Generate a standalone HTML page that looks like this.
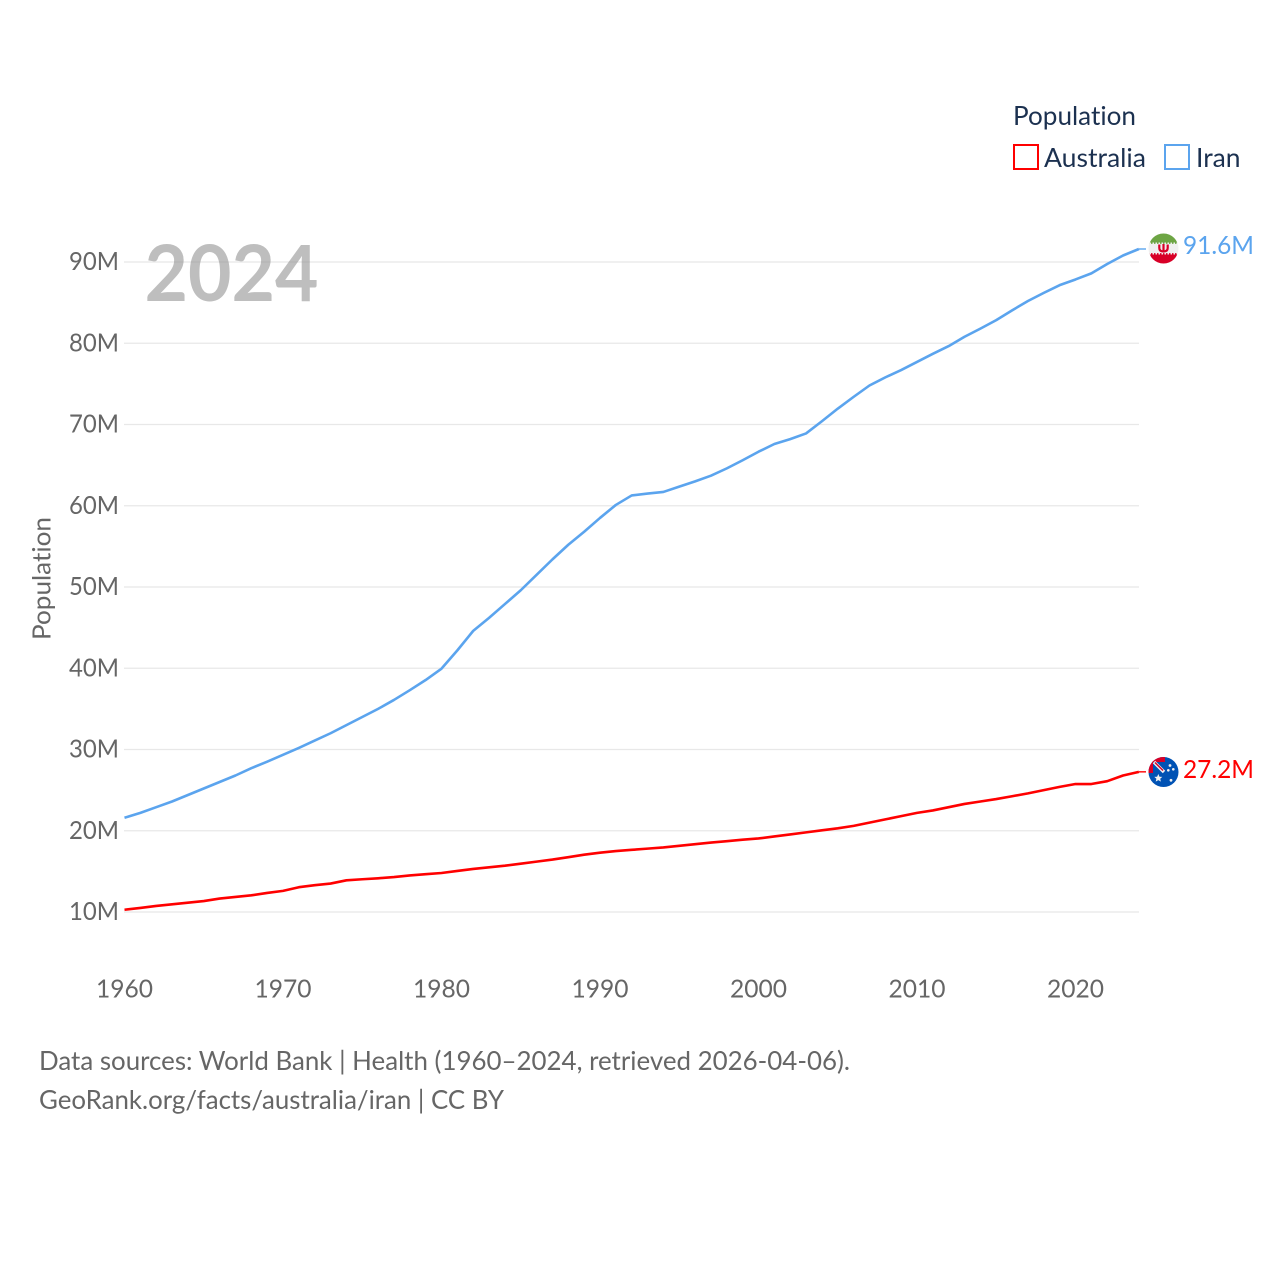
<!DOCTYPE html>
<html>
<head>
<meta charset="utf-8">
<title>Population: Australia and Iran</title>
<style>
html,body{margin:0;padding:0;background:#fff;}
svg{display:block;}
text{font-family:"Lato","Carlito","Liberation Sans",sans-serif;font-variant-ligatures:none;}
</style>
</head>
<body>
<svg id="chart" width="1280" height="1280" viewBox="0 0 1280 1280" xmlns="http://www.w3.org/2000/svg">
  <defs>
    <clipPath id="iran-clip"><circle cx="1163.5" cy="248.5" r="15"/></clipPath>
    <clipPath id="aus-clip"><circle cx="1163.5" cy="772" r="15"/></clipPath>
  </defs>
  <rect x="0" y="0" width="1280" height="1280" fill="#ffffff"/>
  <g id="grid"></g>
  <g id="yticks"></g>
  <g id="xticks"></g>
  <text transform="translate(50.5,640) rotate(-90)" font-size="25" fill="#666666" textLength="123" lengthAdjust="spacingAndGlyphs">Population</text>
  <text x="144.5" y="301" font-size="78" font-weight="700" fill="#888888" fill-opacity="0.55" textLength="174" lengthAdjust="spacingAndGlyphs">2024</text>
  <g id="series"></g>

  <g clip-path="url(#iran-clip)">
    <rect x="1148" y="233" width="31" height="31" fill="#f0f0f0"/>
    <rect x="1148" y="233" width="31" height="9.5" fill="#6da544"/>
    <rect x="1148" y="254.5" width="31" height="10" fill="#d80027"/>
    <path d="M1148 243.2h31" stroke="#6da544" stroke-width="1.4" stroke-dasharray="1.5 1.5"/>
    <path d="M1148 253.8h31" stroke="#d80027" stroke-width="1.4" stroke-dasharray="1.5 1.5"/>
    <path d="M1159.3 244.5v3.5q0 3.5 4.2 3.5t4.2-3.5v-3.5M1163.5 244v8.5" fill="none" stroke="#d80027" stroke-width="2.2"/>
  </g>
  <g clip-path="url(#aus-clip)">
    <rect x="1148" y="756" width="31" height="32" fill="#0052b4"/>
    <rect x="1148" y="756" width="17" height="6" fill="#d80027"/>
    <rect x="1148" y="756" width="5" height="17" fill="#d80027"/>
    <path d="M1154 762l10 10" stroke="#f0f0f0" stroke-width="3.4"/>
    <path d="M1155 762.5l8 8" stroke="#d80027" stroke-width="1.4"/>
    <polygon points="1158.3,774 1159.5,776.7 1162.3,776.9 1160.2,778.8 1160.9,781.6 1158.3,780.1 1155.7,781.6 1156.4,778.8 1154.3,776.9 1157.1,776.7" fill="#f0f0f0"/>
    <circle cx="1170" cy="765.5" r="1.4" fill="#f0f0f0"/>
    <circle cx="1173.3" cy="769.3" r="1.3" fill="#f0f0f0"/>
    <circle cx="1168.3" cy="770.3" r="1.3" fill="#f0f0f0"/>
    <circle cx="1171" cy="780.3" r="1.4" fill="#f0f0f0"/>
  </g>
  <text x="1183" y="254" font-size="25" fill="#5ba4ee" textLength="71" lengthAdjust="spacingAndGlyphs">91.6M</text>
  <text x="1183" y="778" font-size="25" fill="#ff0000" textLength="71" lengthAdjust="spacingAndGlyphs">27.2M</text>

  <g>
    <text x="1013" y="125" font-size="26" fill="#1c3150" textLength="123" lengthAdjust="spacingAndGlyphs">Population</text>
    <rect x="1014" y="145" width="24" height="24" fill="none" stroke="#ff0000" stroke-width="2"/>
    <text x="1044" y="167" font-size="26" fill="#1c3150" textLength="102" lengthAdjust="spacingAndGlyphs">Australia</text>
    <rect x="1165" y="145" width="24" height="24" fill="none" stroke="#5ba4ee" stroke-width="2"/>
    <text x="1196" y="167" font-size="26" fill="#1c3150" textLength="44.5" lengthAdjust="spacingAndGlyphs">Iran</text>
  </g>

  <text x="39" y="1070" font-size="26" fill="#666666" textLength="811" lengthAdjust="spacingAndGlyphs">Data sources: World Bank | Health (1960–2024, retrieved 2026-04-06).</text>
  <text x="39" y="1109" font-size="26" fill="#666666" textLength="465" lengthAdjust="spacingAndGlyphs">GeoRank.org/facts/australia/iran | CC BY</text>
</svg>
<script>
var firstYear = 1960;
var yTickValues = [10, 20, 30, 40, 50, 60, 70, 80, 90];
var yTickLabels = ["10M", "20M", "30M", "40M", "50M", "60M", "70M", "80M", "90M"];
var xTickYears = [1960, 1970, 1980, 1990, 2000, 2010, 2020];
var xTickLabels = ["1960", "1970", "1980", "1990", "2000", "2010", "2020"];
var iranValues = [21.6, 22.2, 22.9, 23.6, 24.4, 25.2, 26.0, 26.8, 27.7, 28.5,
  29.35, 30.2, 31.1, 32.0, 33.0, 34.0, 35.0, 36.1, 37.3, 38.55,
  39.95, 42.2, 44.6, 46.2, 47.9, 49.6, 51.5, 53.4, 55.2, 56.8,
  58.5, 60.1, 61.27, 61.5, 61.7, 62.35, 63.0, 63.7, 64.6, 65.6,
  66.65, 67.6, 68.2, 68.9, 70.4, 71.95, 73.4, 74.8, 75.8, 76.7,
  77.7, 78.7, 79.65, 80.8, 81.8, 82.85, 84.05, 85.2, 86.2, 87.15,
  87.85, 88.6, 89.75, 90.8, 91.6];
var australiaValues = [10.28, 10.5, 10.75, 10.95, 11.15, 11.35, 11.65, 11.85, 12.05, 12.35,
  12.6, 13.05, 13.3, 13.5, 13.9, 14.03, 14.15, 14.3, 14.5, 14.65,
  14.8, 15.05, 15.3, 15.5, 15.7, 15.95, 16.2, 16.45, 16.75, 17.05,
  17.3, 17.5, 17.65, 17.8, 17.95, 18.15, 18.35, 18.55, 18.72, 18.9,
  19.05, 19.3, 19.55, 19.8, 20.05, 20.3, 20.6, 21.0, 21.4, 21.8,
  22.2, 22.5, 22.9, 23.3, 23.6, 23.9, 24.25, 24.6, 25.0, 25.4,
  25.75, 25.75, 26.1, 26.8, 27.25];

var NS = "http://www.w3.org/2000/svg";
function xScale(year) { return 124.5 + (year - 1960) * 15.85; }
function yScale(v) { return 912 - (v - 10) * 8.125; }
function make(tag, attrs, parent, content) {
  var el = document.createElementNS(NS, tag);
  for (var k in attrs) { el.setAttribute(k, attrs[k]); }
  if (content !== undefined) { el.textContent = content; }
  parent.appendChild(el);
  return el;
}
var gridG = document.getElementById("grid");
var yG = document.getElementById("yticks");
var xG = document.getElementById("xticks");
var seriesG = document.getElementById("series");

yTickValues.forEach(function (v, i) {
  var line = make("line", {x1: 124, x2: 1139, y1: yScale(v), y2: yScale(v), stroke: "#e8e8e8", "stroke-width": 1.3}, gridG);
  
  
  var label = make("text", {x: 69, y: yScale(v) + 8, "font-size": 25, fill: "#666666", textLength: 50, lengthAdjust: "spacingAndGlyphs"}, yG, yTickLabels[i]);
  
  
});
xTickYears.forEach(function (yr, i) {
  var label = make("text", {x: xScale(yr) - 28.5, y: 997.5, "font-size": 25, fill: "#666666", textLength: 57, lengthAdjust: "spacingAndGlyphs"}, xG, xTickLabels[i]);
  
  
});
function linePath(values) {
  return values.map(function (v, i) {
    return (i ? "L" : "M") + xScale(firstYear + i).toFixed(2) + " " + yScale(v).toFixed(2);
  }).join("");
}
function connectorPath(values) {
  var n = values.length - 1;
  return "M" + xScale(firstYear + n).toFixed(2) + " " + yScale(values[n]).toFixed(2) + "H1146";
}
var iranLine = make("path", {d: linePath(iranValues), fill: "none", stroke: "#5ba4ee", "stroke-width": 2.6, "stroke-linejoin": "round"}, seriesG);


var iranConnector = make("path", {d: connectorPath(iranValues), fill: "none", stroke: "#5ba4ee", "stroke-width": 1.4}, seriesG);


var ausLine = make("path", {d: linePath(australiaValues), fill: "none", stroke: "#ff0000", "stroke-width": 2.6, "stroke-linejoin": "round"}, seriesG);


var ausConnector = make("path", {d: connectorPath(australiaValues), fill: "none", stroke: "#ff0000", "stroke-width": 1.4}, seriesG);


</script>
</body>
</html>
